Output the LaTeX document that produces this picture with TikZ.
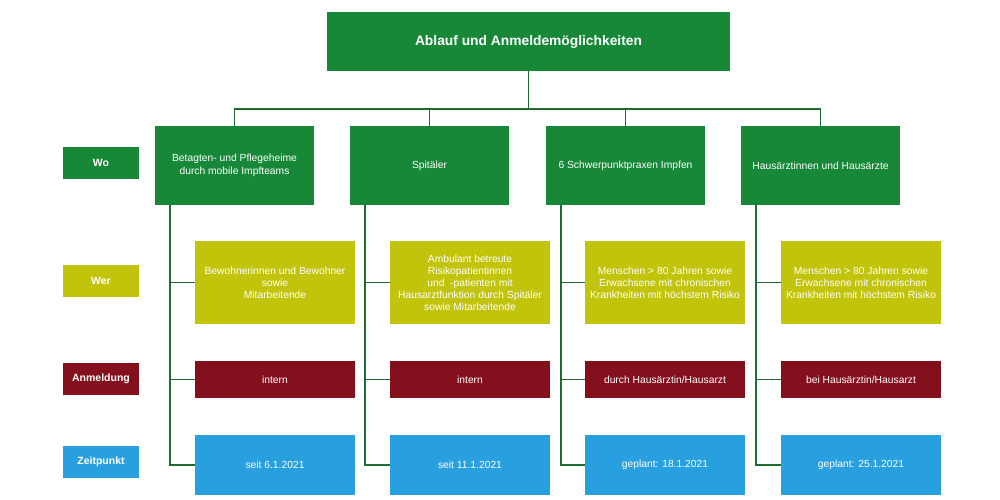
\documentclass[tikz,border=0pt]{standalone}
\usepackage{fontspec}
\setmainfont{Liberation Sans}
\begin{document}
\begin{tikzpicture}[x=1pt,y=-1pt,
  box/.style={draw=none,inner sep=2pt,align=center,text=white,font=\fontsize{10.3}{12}\selectfont},
  wobox/.style={box,fill=wogreen,minimum width=159pt,minimum height=79pt,font=\fontsize{10.3}{13.5}\selectfont},
  werbox/.style={box,fill=werolive,minimum width=160pt,minimum height=83pt},
  anmbox/.style={box,fill=anmred,minimum width=160pt,minimum height=37pt},
  zeitbox/.style={box,fill=zeitblue,minimum width=160pt,minimum height=60pt},
  lbl/.style={box,minimum width=76pt,minimum height=32pt,font=\fontsize{10.5}{12}\selectfont\bfseries},
  conn/.style={draw=linegreen,line width=1.9pt}]
\definecolor{wogreen}{RGB}{22,136,56}
\definecolor{werolive}{RGB}{194,196,12}
\definecolor{anmred}{RGB}{132,16,30}
\definecolor{zeitblue}{RGB}{40,160,224}
\definecolor{linegreen}{RGB}{30,108,50}
\useasboundingbox[fill=white] (0,0) rectangle (1000,500);

\node[box,fill=wogreen,minimum width=403pt,minimum height=59pt,font=\fontsize{13.8}{16}\selectfont\bfseries] (top) at (528.5,41.5) {Ablauf und Anmeldemöglichkeiten};

% labels
\node[lbl,fill=wogreen] (lwo) at (101,163) {Wo};
\node[lbl,fill=werolive] (lwer) at (101,280.5) {Wer};
\node[lbl,fill=anmred] (lanm) at (101,378.5) {Anmeldung};
\node[lbl,fill=zeitblue] (lzeit) at (101,461.5) {Zeitpunkt};

% Wo row
\node[wobox] (wo1) at (234.5,165.5) {Betagten- und Pflegeheime\\durch mobile Impfteams};
\node[wobox] (wo2) at (429.5,165.5) {Spitäler};
\node[wobox] (wo3) at (625.5,165.5) {6 Schwerpunktpraxen Impfen};
\node[wobox] (wo4) at (820.5,165.5) {Hausärztinnen und Hausärzte};

% Wer row
\node[werbox] (wer1) at (275,282.5) {Bewohnerinnen und Bewohner\\sowie\\Mitarbeitende};
\node[werbox] (wer2) at (470,282.5) {Ambulant betreute\\Risikopatientinnen\\und\ \ -patienten mit\\Hausarztfunktion durch Spitäler\\sowie Mitarbeitende};
\node[werbox] (wer3) at (665,282.5) {Menschen > 80 Jahren sowie\\Erwachsene mit chronischen\\Krankheiten mit höchstem Risiko};
\node[werbox] (wer4) at (861,282.5) {Menschen > 80 Jahren sowie\\Erwachsene mit chronischen\\Krankheiten mit höchstem Risiko};

% Anmeldung row
\node[anmbox] (anm1) at (275,379.5) {intern};
\node[anmbox] (anm2) at (470,379.5) {intern};
\node[anmbox] (anm3) at (665,379.5) {durch Hausärztin/Hausarzt};
\node[anmbox] (anm4) at (861,379.5) {bei Hausärztin/Hausarzt};

% Zeitpunkt row
\node[zeitbox] (zeit1) at (275,465) {seit 6.1.2021};
\node[zeitbox] (zeit2) at (470,465) {seit 11.1.2021};
\node[zeitbox] (zeit3) at (665,465) {geplant: 18.1.2021};
\node[zeitbox] (zeit4) at (861,465) {geplant: 25.1.2021};

% connectors
\foreach \i in {1,2,3,4}{
  \draw[conn] (top.south) -- ++(0,37.5) -| (wo\i.north);
  \draw[conn] ([xshift=15pt]wo\i.south west) |- (zeit\i.west);
  \draw[conn] ([xshift=15pt]wo\i.south west) |- (wer\i.west);
  \draw[conn] ([xshift=15pt]wo\i.south west) |- (anm\i.west);
}
\end{tikzpicture}
\end{document}
